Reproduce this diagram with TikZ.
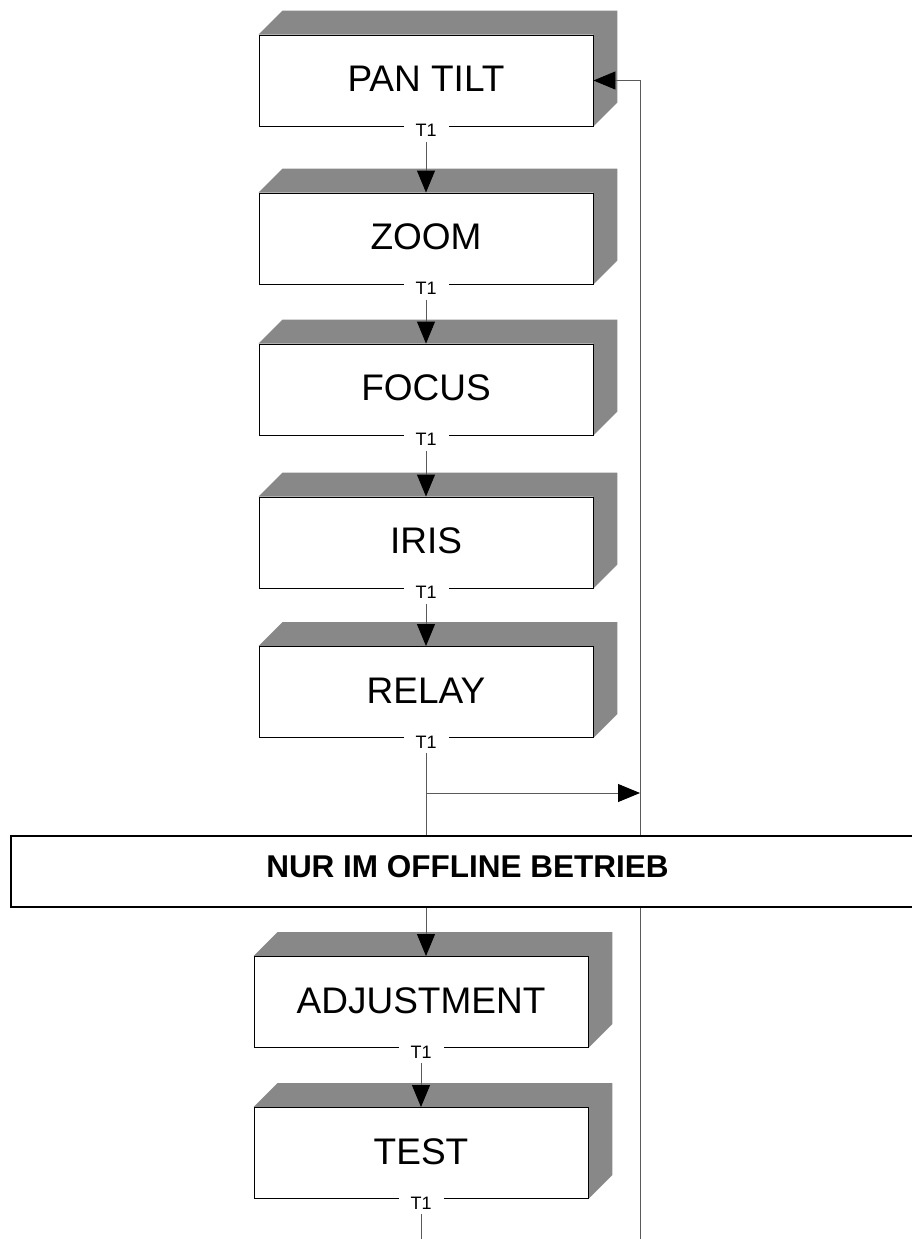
\documentclass[tikz,border=0pt]{standalone}
\usepackage{fontspec}
\setmainfont{Liberation Sans}
\usetikzlibrary{arrows.meta,backgrounds}
\definecolor{sidegray}{RGB}{136,136,136}
\definecolor{wire}{RGB}{90,90,90}
\begin{document}
\begin{tikzpicture}[x=1pt,y=-1pt,
  stage/.style={draw=black,line width=0.9pt,fill=white,minimum width=334pt,
    minimum height=91pt,inner sep=0pt,font=\fontsize{37}{40}\selectfont,
    text height=22pt,text depth=0pt},
  tag/.style={fill=white,inner xsep=12pt,inner ysep=1pt,
    font=\fontsize{18}{20}\selectfont},
  flow/.style={draw=wire,line width=0.9pt},
  tip/.style={-{Triangle[length=22pt,width=18pt,color=black]}},
  band/.style={draw=black,line width=2pt,fill=white,minimum width=913pt,
    minimum height=71pt,inner sep=0pt,
    font=\bfseries\fontsize{31.5}{34}\selectfont,text height=11pt,text depth=0pt}
]
\useasboundingbox (0,0) rectangle (912,1239);

% stage boxes (front faces)
\node[stage] (pan)   at (426,80.5)  {PAN TILT};
\node[stage] (zoom)  at (426,238.5) {ZOOM};
\node[stage] (focus) at (426,389.5) {FOCUS};
\node[stage] (iris)  at (426,542.5) {IRIS};
\node[stage] (relay) at (426,692)   {RELAY};
\node[stage] (adj)   at (421,1002)  {ADJUSTMENT};
\node[stage] (test)  at (421,1153)  {TEST};

% transition labels on the bottom edges
\foreach \b in {pan,zoom,focus,iris,relay,adj,test}
  \node[tag] (t1\b) at ([yshift=-4pt]\b.south) {T1};

% extruded top and right sides, behind the front faces
\begin{scope}[on background layer]
  \fill[white] (0,0) rectangle (912,1239);
  \foreach \b in {pan,zoom,focus,iris,relay,adj,test}
    \fill[sidegray] (\b.north west) -- ++(24,-24)
      -- ([shift={(24,-24)}]\b.north east)
      -- ([shift={(24,-24)}]\b.south east)
      -- (\b.south east) -- (\b.north east) -- cycle;
\end{scope}

% sequence connectors
\draw[flow,tip,shorten <=4pt] (t1pan)   -- (zoom);
\draw[flow,tip,shorten <=4pt] (t1zoom)  -- (focus);
\draw[flow,tip,shorten <=4pt] (t1focus) -- (iris);
\draw[flow,tip,shorten <=4pt] (t1iris)  -- (relay);
\draw[flow,tip,shorten <=4pt] (t1relay.south) -- (t1relay.south |- adj.north);
\draw[flow,tip,shorten <=4pt] (t1adj)   -- (test);

% return loop back to PAN TILT
\coordinate (lvl) at (0,793);
\coordinate (ret) at (640,1239);
\coordinate (fork) at (t1relay.south |- lvl);
\draw[flow,tip] (fork) -- (fork -| ret);
\draw[flow,tip] (ret) -- (ret |- pan.east) -- (pan.east);

% open end below TEST
\coordinate (tail) at (0,1239);
\draw[flow,shorten <=4pt] (t1test.south) -- (t1test.south |- tail);

% offline-only band across the flow
\node[band] (nur) at (467.5,871.5) {NUR IM OFFLINE BETRIEB};
\end{tikzpicture}
\end{document}
